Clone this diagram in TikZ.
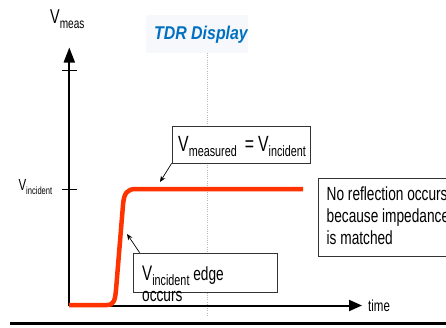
\documentclass[tikz,border=0pt]{standalone}
\usepackage{fontspec}
\setmainfont{Liberation Sans}[FakeStretch=0.72]
\newfontfamily\tdrfont{Liberation Sans}[FakeStretch=0.86]
\usetikzlibrary{arrows.meta}
\definecolor{tdrblue}{RGB}{0,112,192}
\definecolor{sigred}{RGB}{255,51,0}
\definecolor{hdrbg}{RGB}{246,248,252}
\newcommand{\myfs}[1]{\fontsize{#1}{#1}\selectfont}
\begin{document}
\begin{tikzpicture}[x=1pt,y=-1pt,
  box/.style={draw=black!80, line width=0.8pt, fill=white, inner sep=0pt},
  lbl/.style={inner sep=0pt, anchor=base west},
  callout/.style={line width=0.7pt, -{Stealth[length=6pt,width=5pt]}},
  axis/.style={line width=2pt},
]
\useasboundingbox (0,0) rectangle (446,327);

% header
\node[fill=hdrbg, minimum width=102, minimum height=38, inner sep=0pt] (hdr) at (197,34) {};
\node[text=tdrblue, inner sep=0pt, anchor=base] (title) at (201,39.3) {\tdrfont\bfseries\itshape\myfs{18.5}TDR Display};

% dotted vertical line
\draw[gray!55, line width=0.8pt, dash pattern=on 1pt off 1.2pt] (207,53) -- (207,315);

% axis labels
\node[lbl] (vmeas) at (50,23.3) {{\myfs{20}V}{\myfs{14}\raisebox{-5pt}{meas}}};
\node[lbl] (vinc) at (18.3,190) {{\myfs{16}V}{\myfs{10.5}\raisebox{-4pt}{incident}}};
\node[lbl] (time) at (368,311.5) {\myfs{16}time};

% axes
\coordinate (O) at (69.3,305.5);
\coordinate (ytop) at (69.3,47.5);
\coordinate (xend) at (362,305.5);
\draw[axis, -{Triangle[length=15pt,width=11pt]}] (O) -- (ytop);
\draw[axis, -{Triangle[length=13pt,width=11pt]}] (O) -- (xend);
\draw[line width=1pt] (62,70) -- (77,70);
\draw[line width=1pt] (62,189) -- (77,189);

% signal
\draw[sigred, line width=4.5pt, line join=round]
  (69,305) -- (107,305) .. controls (114,305) and (115,300) .. (116,290)
  -- (123,205) .. controls (124,193) and (127,189) .. (136,189) -- (303,189);

% V_measured box
\node[box, minimum width=138, minimum height=37] (mbox) at (241,144.5) {};
\node[lbl] (mtext) at (178,151.7) {{\myfs{22}V}{\myfs{15}\raisebox{-5pt}{measured}}\hspace{8pt}{\myfs{22}=}\hspace{4pt}{\myfs{22}V}{\myfs{15}\raisebox{-5pt}{incident}}};
\coordinate (mtip) at (160,182);
\draw[callout] (mbox.south west) -- (mtip);

% V_incident edge box
\node[box, minimum width=144, minimum height=39] (ebox) at (205,272.5) {};
\node[lbl] (etext) at (142,280) {{\myfs{21}V}{\myfs{15}\raisebox{-5pt}{incident}}{\myfs{19} edge}};
\node[lbl] (eocc) at (142,301) {\myfs{19}occurs};
\coordinate (etip) at (127,234);
\draw[callout] ([xshift=7pt]ebox.north west) -- (etip);

% no reflection box
\node[box, minimum width=150, minimum height=78, anchor=north west] (nbox) at (318,178) {};
\node[lbl] (n1) at (326.5,200.7) {\myfs{19}No reflection occurs};
\node[lbl] (n2) at (326.5,222.5) {\myfs{19}because impedance};
\node[lbl] (n3) at (326.5,244.3) {\myfs{19}is matched};

% bottom rule
\draw[line width=3.5pt] (10,323.5) -- (446,323.5);
\end{tikzpicture}
\end{document}
